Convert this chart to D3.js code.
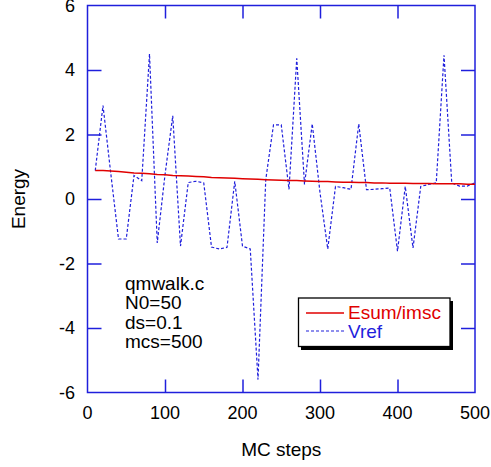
<!DOCTYPE html>
<html>
<head>
<meta charset="utf-8">
<script src="https://cdn.jsdelivr.net/npm/d3@7"></script>
<style>
  body { margin: 0; background: #fff; }
  svg text { font-family: "Liberation Sans", Arial, sans-serif; }
</style>
</head>
<body>
<svg id="chart" width="491" height="467"></svg>
<script>
// MC step numbers (x)
const steps = [10, 20, 30, 40, 50, 60, 70, 80, 90, 100,
  110, 120, 130, 140, 150, 160, 170, 180, 190, 200,
  210, 220, 230, 240, 250, 260, 270, 280, 290, 300,
  310, 320, 330, 340, 350, 360, 370, 380, 390, 400,
  410, 420, 430, 440, 450, 460, 470, 480, 490, 500]

// running average energy Esum/imsc
const esum = [0.88, 0.88, 0.87, 0.85, 0.83, 0.81, 0.80, 0.78, 0.76, 0.75,
  0.73, 0.72, 0.71, 0.70, 0.69, 0.67, 0.66, 0.65, 0.64, 0.63,
  0.62, 0.61, 0.60, 0.59, 0.58, 0.57, 0.57, 0.56, 0.55, 0.54,
  0.54, 0.53, 0.52, 0.52, 0.51, 0.51, 0.50, 0.50, 0.49, 0.49,
  0.49, 0.48, 0.48, 0.48, 0.47, 0.47, 0.47, 0.47, 0.46, 0.46]

// reference potential Vref
const vref = [0.88, 2.9, 0.8, -1.24, -1.24, 0.73, 0.57, 4.5, -1.36, 0.75,
  2.58, -1.46, 0.51, 0.55, 0.5, -1.49, -1.55, -1.5, 0.55, -1.46,
  -1.55, -5.6, 0.6, 2.3, 2.3, 0.3, 4.36, 0.45, 2.33, 0.2,
  -1.55, 0.39, 0.35, 0.3, 2.33, 0.29, 0.3, 0.32, 0.34, -1.62,
  0.39, -1.52, 0.39, 0.45, 0.5, 4.46, 0.5, 0.4, 0.4, 0.5]

const xTicks = [0, 100, 200, 300, 400, 500]
const yTicks = [-6, -4, -2, 0, 2, 4, 6]
const notes = ["qmwalk.c", "N0=50", "ds=0.1", "mcs=500"]

const blue = "#1f1fdc"
const red = "#e00000"

const svg = d3.select("#chart")
const plotLeft = 87.5, plotRight = 475, plotTop = 5.5, plotBottom = 392.5

const x = d3.scaleLinear().domain([0, 500]).range([plotLeft, plotRight])
const y = d3.scaleLinear().domain([-6, 6]).range([plotBottom, plotTop])

// inner ticks on all four sides
const innerX = xTicks.slice(1, -1)
const innerY = yTicks.slice(1, -1)

svg.append("g")
  .attr("transform", `translate(0,${plotBottom})`)
  .call(d3.axisBottom(x).tickValues(innerX).tickSizeInner(-13).tickSizeOuter(0).tickFormat(""))
svg.append("g")
  .attr("transform", `translate(0,${plotTop})`)
  .call(d3.axisTop(x).tickValues(innerX).tickSizeInner(-13).tickSizeOuter(0).tickFormat(""))
svg.append("g")
  .attr("transform", `translate(${plotLeft},0)`)
  .call(d3.axisLeft(y).tickValues(innerY).tickSizeInner(-14).tickSizeOuter(0).tickFormat(""))
svg.append("g")
  .attr("transform", `translate(${plotRight},0)`)
  .call(d3.axisRight(y).tickValues(innerY).tickSizeInner(-14).tickSizeOuter(0).tickFormat(""))

svg.selectAll(".domain").remove()
svg.selectAll(".tick line").attr("stroke", blue).attr("stroke-width", 1.5)

// tick labels
svg.append("g").selectAll("text")
  .data(xTicks)
  .join("text")
  .attr("x", d => x(d))
  .attr("y", 419)
  .attr("text-anchor", "middle")
  .attr("font-size", 18)
  .text(d => d)

svg.append("g").selectAll("text")
  .data(yTicks)
  .join("text")
  .attr("x", 75)
  .attr("y", d => y(d))
  .attr("dy", "0.36em")
  .attr("text-anchor", "end")
  .attr("font-size", 18)
  .text(d => d)

svg.append("text")
  .attr("x", (plotLeft + plotRight) / 2)
  .attr("y", 456)
  .attr("text-anchor", "middle")
  .attr("font-size", 19)
  .text("MC steps")

svg.append("text")
  .attr("transform", `translate(25,${y(0)}) rotate(-90)`)
  .attr("text-anchor", "middle")
  .attr("font-size", 19)
  .text("Energy")

// frame
svg.append("rect")
  .attr("x", plotLeft).attr("y", plotTop)
  .attr("width", plotRight - plotLeft).attr("height", plotBottom - plotTop)
  .attr("fill", "none")
  .attr("stroke", blue)
  .attr("stroke-width", 1.5)

const seriesLine = d3.line().x((d, i) => x(steps[i])).y(d => y(d))

svg.append("path")
  .attr("d", seriesLine(vref))
  .attr("fill", "none")
  .attr("stroke", blue)
  .attr("stroke-width", 1.2)
  .attr("stroke-dasharray", "3,2")

svg.append("path")
  .attr("d", seriesLine(esum))
  .attr("fill", "none")
  .attr("stroke", red)
  .attr("stroke-width", 1.5)

// run parameters
svg.append("g").selectAll("text")
  .data(notes)
  .join("text")
  .attr("x", 125)
  .attr("y", (d, i) => 290 + i * 19.3)
  .attr("font-size", 19)
  .text(d => d)

// legend
const lg = svg.append("g")
lg.append("rect")
  .attr("x", 301).attr("y", 301)
  .attr("width", 152).attr("height", 49)
  .attr("fill", "#000")
lg.append("rect")
  .attr("x", 298.5).attr("y", 298)
  .attr("width", 151.5).attr("height", 48.5)
  .attr("fill", "#fff")
  .attr("stroke", "#000")
  .attr("stroke-width", 1.3)
lg.append("line")
  .attr("x1", 306).attr("x2", 344).attr("y1", 313).attr("y2", 313)
  .attr("stroke", red).attr("stroke-width", 1.5)
lg.append("line")
  .attr("x1", 306).attr("x2", 344).attr("y1", 331).attr("y2", 331)
  .attr("stroke", blue).attr("stroke-width", 1.2).attr("stroke-dasharray", "3,2")
lg.append("text")
  .attr("x", 348).attr("y", 319)
  .attr("font-size", 19).attr("fill", red)
  .text("Esum/imsc")
lg.append("text")
  .attr("x", 348).attr("y", 338)
  .attr("font-size", 19).attr("fill", blue)
  .text("Vref")
</script>
</body>
</html>
